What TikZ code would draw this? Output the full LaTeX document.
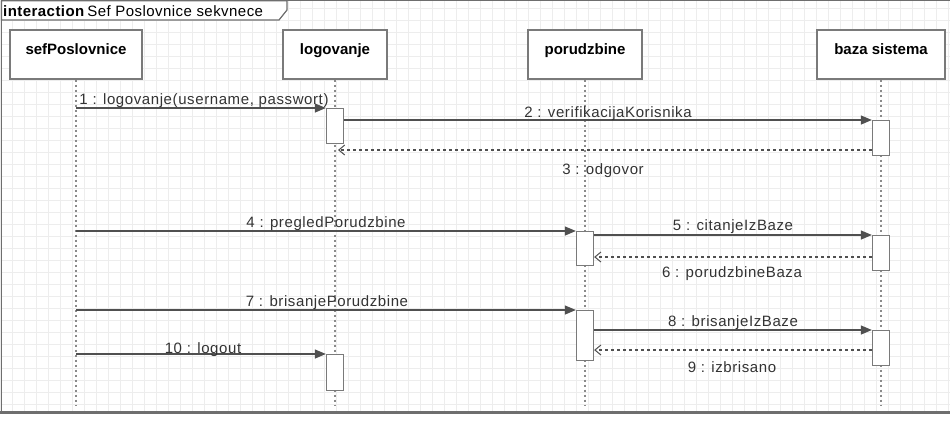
\documentclass[tikz,border=0pt]{standalone}
\usepackage{fontspec}
\setmainfont{Liberation Sans}
\newfontfamily\msgfont{Liberation Sans}[LetterSpace=4]
\newfontfamily\titlefont{Liberation Sans}[LetterSpace=3]
\usetikzlibrary{arrows.meta}
\definecolor{gridc}{HTML}{EDEDED}
\definecolor{framec}{HTML}{6E6E6E}
\definecolor{boxc}{HTML}{7A7A7A}
\definecolor{linec}{HTML}{505050}
\definecolor{lifec}{HTML}{8A8A8A}
\begin{document}
\begin{tikzpicture}[x=1pt,y=-1pt,
  head/.style={draw=boxc, line width=1.3pt, fill=white, inner sep=0pt,
    minimum width=#1, minimum height=49pt, text height=24pt, text depth=25pt,
    font=\fontsize{15}{17}\selectfont\bfseries},
  act/.style={draw=boxc, line width=1.3pt, fill=white, inner sep=0pt,
    minimum width=17pt, minimum height=#1, anchor=north},
  lifeline/.style={draw=lifec, line width=1.5pt, dash pattern=on 2.5pt off 2.5pt},
  call/.style={draw=linec, line width=1.2pt, -{Triangle[length=11pt,width=9pt]}},
  reply/.style={draw=linec, line width=1.2pt, dash pattern=on 3pt off 3pt,
    -{Straight Barb[length=6pt,width=10pt,line width=1pt]}},
  msg/.style={anchor=base, inner sep=0pt, text=black!80, font=\msgfont\fontsize{15}{17}\selectfont}
]
\useasboundingbox (0,0) rectangle (950,424);
% grid
\foreach \i in {0,12,...,948} \draw[gridc, line width=0.8pt] (\i,1) -- (\i,411);
\foreach \j in {8,20,...,404} \draw[gridc, line width=0.8pt] (2,\j) -- (950,\j);
% frame
\draw[framec, line width=1.3pt] (1.5,412) -- (1.5,0.7) -- (951,0.7);
\draw[framec, line width=3pt] (0,412) -- (950,412);
\draw[framec, line width=1.2pt, fill=white] (1.5,0.7) -- (287,0.7) -- (287,10) -- (279,20) -- (1.5,20) -- cycle;
\node[anchor=base west, inner sep=0pt, font=\titlefont\fontsize{15}{17}\selectfont] (title) at (3,16)
  {\textbf{interaction}\,Sef Poslovnice sekvnece};
% heads
\node[head=132pt] (h1) at (76,54.5) {sefPoslovnice};
\node[head=104pt] (h2) at (335,54.5) {logovanje};
\node[head=114pt] (h3) at (585,54.5) {porudzbine};
\node[head=128pt] (h4) at (881,54.5) {baza sistema};
% lifeline ends
\coordinate (e1) at (76,405);
\coordinate (e2) at (335,405);
\coordinate (e3) at (585,405);
\coordinate (e4) at (881,405);
\draw[lifeline] (h1.south) -- (e1);
\draw[lifeline] (h2.south) -- (e2);
\draw[lifeline] (h3.south) -- (e3);
\draw[lifeline] (h4.south) -- (e4);
% activations
\node[act=35pt] (aL1) at (335,108) {};
\node[act=35pt] (aB1) at (881,120) {};
\node[act=34pt] (aP1) at (585,231) {};
\node[act=35pt] (aB2) at (881,235) {};
\node[act=50pt] (aP2) at (585,310) {};
\node[act=35pt] (aB3) at (881,330) {};
\node[act=36pt] (aL2) at (335,354) {};
% message anchors
\coordinate (s1) at (76,108);
\coordinate (s4) at (76,231);
\coordinate (s7) at (76,310);
\coordinate (s10) at (76,354);
\coordinate (r3) at (338,150);
\coordinate (r6) at (585,257);
\coordinate (r9) at (585,350);
% messages
\draw[call] (s1) -- (aL1.north west);
\draw[call] (aL1.east |- aB1.north) -- (aB1.north west);
\draw[reply] (aB1.west |- r3) -- (r3);
\draw[call] (s4) -- (aP1.north west);
\draw[call] (aP1.east |- aB2.north) -- (aB2.north west);
\draw[reply] (aB2.west |- r6) -- (aP1.east |- r6);
\draw[call] (s7) -- (aP2.north west);
\draw[call] (aP2.east |- aB3.north) -- (aB3.north west);
\draw[reply] (aB3.west |- r9) -- (aP2.east |- r9);
\draw[call] (s10) -- (aL2.north west);
% labels
\node[msg] (l1) at (204,104) {1 : logovanje(username, passwort)};
\node[msg] (l2) at (608,117) {2 : verifikacijaKorisnika};
\node[msg] (l3) at (603,174) {3 : odgovor};
\node[msg] (l4) at (326,227) {4 : pregledPorudzbine};
\node[msg] (l5) at (733,230) {5 : citanjeIzBaze};
\node[msg] (l6) at (732,277) {6 : porudzbineBaza};
\node[msg] (l7) at (327,306) {7 : brisanjePorudzbine};
\node[msg] (l8) at (733,326) {8 : brisanjeIzBaze};
\node[msg] (l9) at (732,372) {9 : izbrisano};
\node[msg] (l10) at (203,353) {10 : logout};
\end{tikzpicture}
\end{document}
